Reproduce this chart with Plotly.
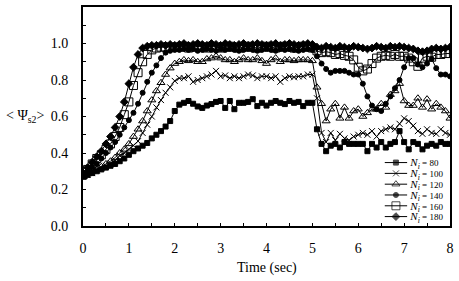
import plotly.graph_objects as go

# ---------------- data ----------------
time = [round(i * 0.1, 1) for i in range(81)]

ni_80 = [0.27, 0.28, 0.29, 0.30, 0.31, 0.32, 0.33, 0.34, 0.355, 0.37, 0.39,
         0.41, 0.425, 0.44, 0.455, 0.48, 0.50, 0.52, 0.545, 0.575, 0.63,
         0.665, 0.675, 0.685, 0.67, 0.655, 0.647, 0.66, 0.668, 0.68, 0.685,
         0.647, 0.685, 0.64, 0.675, 0.675, 0.68, 0.695, 0.657, 0.675, 0.66,
         0.675, 0.685, 0.675, 0.668, 0.685, 0.675, 0.68, 0.657, 0.675, 0.675,
         0.53, 0.45, 0.41, 0.44, 0.45, 0.43, 0.46, 0.45, 0.45, 0.45,
         0.45, 0.41, 0.45, 0.43, 0.46, 0.43, 0.45, 0.46, 0.52, 0.46,
         0.42, 0.46, 0.45, 0.42, 0.44, 0.45, 0.44, 0.46, 0.45, 0.45]

ni_100 = [0.27, 0.28, 0.29, 0.305, 0.32, 0.33, 0.345, 0.36, 0.385, 0.40, 0.42,
          0.44, 0.465, 0.51, 0.555, 0.60, 0.65, 0.69, 0.73, 0.76, 0.795,
          0.81, 0.81, 0.82, 0.79, 0.80, 0.81, 0.82, 0.83, 0.85, 0.82,
          0.825, 0.81, 0.82, 0.81, 0.82, 0.83, 0.825, 0.81, 0.82, 0.82,
          0.81, 0.82, 0.79, 0.81, 0.82, 0.815, 0.82, 0.82, 0.83, 0.83,
          0.70, 0.51, 0.46, 0.51, 0.47, 0.505, 0.48, 0.47, 0.49, 0.50,
          0.51, 0.50, 0.52, 0.49, 0.52, 0.53, 0.54, 0.53, 0.56, 0.59,
          0.575, 0.55, 0.52, 0.505, 0.53, 0.51, 0.505, 0.53, 0.51, 0.50]

ni_120 = [0.27, 0.285, 0.30, 0.31, 0.325, 0.34, 0.355, 0.375, 0.40, 0.42, 0.45,
          0.49, 0.53, 0.575, 0.63, 0.69, 0.74, 0.785, 0.83, 0.865, 0.89,
          0.90, 0.91, 0.905, 0.91, 0.90, 0.90, 0.915, 0.92, 0.93, 0.92,
          0.91, 0.91, 0.90, 0.91, 0.92, 0.91, 0.91, 0.92, 0.905, 0.89,
          0.91, 0.92, 0.90, 0.91, 0.91, 0.905, 0.91, 0.91, 0.91, 0.905,
          0.76, 0.67, 0.575, 0.64, 0.67, 0.59, 0.65, 0.59, 0.63, 0.64,
          0.60, 0.62, 0.64, 0.64, 0.67, 0.65, 0.72, 0.74, 0.78, 0.685,
          0.66, 0.66, 0.70, 0.65, 0.695, 0.64, 0.67, 0.65, 0.63, 0.59]

ni_140 = [0.28, 0.30, 0.32, 0.34, 0.37, 0.40, 0.43, 0.46, 0.50, 0.54, 0.58,
          0.62, 0.67, 0.73, 0.79, 0.84, 0.88, 0.92, 0.95, 0.96, 0.965,
          0.965, 0.97, 0.965, 0.97, 0.96, 0.965, 0.97, 0.965, 0.96, 0.97,
          0.965, 0.97, 0.965, 0.96, 0.965, 0.97, 0.965, 0.96, 0.965, 0.97,
          0.965, 0.96, 0.97, 0.965, 0.97, 0.965, 0.96, 0.965, 0.97, 0.965,
          0.93, 0.89, 0.86, 0.84, 0.85, 0.85, 0.85, 0.84, 0.83, 0.83,
          0.78, 0.71, 0.66, 0.64, 0.63, 0.67, 0.71, 0.755, 0.80, 0.87,
          0.92, 0.92, 0.885, 0.87, 0.89, 0.915, 0.865, 0.83, 0.83, 0.82]

ni_160 = [0.28, 0.31, 0.34, 0.37, 0.39, 0.42, 0.45, 0.49, 0.54, 0.61, 0.68,
          0.77, 0.84, 0.90, 0.94, 0.965, 0.975, 0.98, 0.98, 0.98, 0.98,
          0.98, 0.985, 0.975, 0.98, 0.985, 0.98, 0.975, 0.985, 0.98, 0.975,
          0.98, 0.985, 0.98, 0.975, 0.98, 0.985, 0.98, 0.975, 0.98, 0.985,
          0.98, 0.975, 0.98, 0.985, 0.98, 0.975, 0.98, 0.985, 0.98, 0.975,
          0.96, 0.95, 0.955, 0.95, 0.94, 0.945, 0.935, 0.93, 0.91, 0.87,
          0.85, 0.86, 0.89, 0.92, 0.93, 0.935, 0.93, 0.94, 0.93, 0.93,
          0.92, 0.90, 0.875, 0.92, 0.93, 0.925, 0.94, 0.94, 0.945, 0.945]

ni_180 = [0.29, 0.32, 0.35, 0.38, 0.41, 0.45, 0.49, 0.54, 0.60, 0.68, 0.78,
          0.87, 0.94, 0.975, 0.985, 0.99, 0.99, 0.995, 0.99, 0.995, 0.99,
          0.995, 1.0, 0.99, 0.995, 1.0, 0.995, 0.99, 1.0, 0.995, 0.99,
          1.0, 0.995, 0.99, 0.995, 1.0, 0.99, 0.995, 1.0, 0.995, 0.99,
          0.995, 1.0, 0.99, 0.995, 1.0, 0.995, 0.99, 0.995, 1.0, 0.995,
          0.98, 0.975, 0.985, 0.98, 0.975, 0.985, 0.98, 0.975, 0.985, 0.98,
          0.975, 0.97, 0.975, 0.985, 0.98, 0.975, 0.985, 0.98, 0.985, 0.98,
          0.975, 0.97, 0.96, 0.955, 0.96, 0.97, 0.975, 0.97, 0.975, 0.98]

series_names = ["Ni = 80", "Ni = 100", "Ni = 120", "Ni = 140", "Ni = 160", "Ni = 180"]
series_labels = ["<i>N<sub>i</sub></i><span style='font-size:9px'> = 80</span>",
                 "<i>N<sub>i</sub></i><span style='font-size:9px'> = 100</span>",
                 "<i>N<sub>i</sub></i><span style='font-size:9px'> = 120</span>",
                 "<i>N<sub>i</sub></i><span style='font-size:9px'> = 140</span>",
                 "<i>N<sub>i</sub></i><span style='font-size:9px'> = 160</span>",
                 "<i>N<sub>i</sub></i><span style='font-size:9px'> = 180</span>"]
series_values = [ni_80, ni_100, ni_120, ni_140, ni_160, ni_180]

x_ticks = [0, 1, 2, 3, 4, 5, 6, 7, 8]
y_ticks = [0.0, 0.2, 0.4, 0.6, 0.8, 1.0]
y_ticktext = ["0.0", "0.2", "0.4", "0.6", "0.8", "1.0"]

# ---------------- styles ----------------
symbols = ["square", "x-thin-open", "triangle-up-open", "circle", "square-open", "diamond"]
sizes = [5, 6, 7, 5, 8, 6]
FONT = "Liberation Serif"

fig = go.Figure()
for name, vals, sym, sz in zip(series_names, series_values, symbols, sizes):
    fig.add_trace(go.Scatter(
        x=time, y=vals, mode="lines+markers", name=name, showlegend=False,
        line=dict(color="black", width=1),
        marker=dict(symbol=sym, size=sz, color="black",
                    line=dict(color="black", width=1)),
        xaxis="x", yaxis="y"))

# compact legend drawn on a small inset axis
for name, sym, sz in zip(series_names, symbols, sizes):
    fig.add_trace(go.Scatter(
        x=[0, 1, 2], y=[name, name, name], mode="lines+markers", showlegend=False,
        hoverinfo="skip",
        line=dict(color="black", width=1),
        marker=dict(symbol=sym, size=[0, sz, 0], color="black",
                    line=dict(color="black", width=1)),
        xaxis="x2", yaxis="y2"))

fig.update_layout(
    width=459, height=281,
    margin=dict(l=83, r=6, t=5, b=55),
    paper_bgcolor="white", plot_bgcolor="white",
    font=dict(family=FONT, color="black", size=14),
    xaxis=dict(range=[0, 8], tickvals=x_ticks, ticks="inside", ticklen=3,
               tickcolor="black", showline=True, linewidth=2, linecolor="black",
               mirror=True, showgrid=False, zeroline=False,
               ticklabelstandoff=8,
               minor=dict(dtick=0.5, tick0=0, ticks="inside", ticklen=3,
                          tickcolor="black", showgrid=False),
               tickfont=dict(size=14, family=FONT)),
    yaxis=dict(range=[0, 1.2], tickvals=y_ticks, ticktext=y_ticktext,
               ticks="inside", ticklen=3, tickcolor="black",
               showline=True, linewidth=2, linecolor="black", mirror=True,
               showgrid=False, zeroline=False, ticklabelstandoff=10,
               minor=dict(dtick=0.1, tick0=0, ticks="inside", ticklen=3,
                          tickcolor="black", showgrid=False),
               tickfont=dict(size=14, family=FONT)),
    xaxis2=dict(domain=[0.8216, 0.8838], range=[0, 2], visible=False,
                anchor="y2"),
    yaxis2=dict(domain=[0.0183, 0.3143], type="category",
                categoryarray=series_names, range=[5.5, -0.5],
                anchor="x2", side="right", showline=False, showgrid=False,
                zeroline=False, ticks="", tickvals=series_names,
                ticktext=series_labels, ticklabelstandoff=2,
                tickfont=dict(size=11, family=FONT)),
    annotations=[
        dict(text="Time (sec)", xref="paper", yref="paper", x=0.5, y=-0.19,
             xanchor="center", yanchor="middle", showarrow=False,
             font=dict(size=14, family=FONT)),
        dict(text="&lt; Ψ<sub>s2</sub>&gt;", xref="paper", yref="y",
             x=-0.216, y=0.6, xanchor="left", yanchor="middle",
             showarrow=False, font=dict(size=14, family=FONT)),
    ],
)

fig.write_html("out.html",
               config={"displayModeBar": False},
               post_script="document.body.style.margin='0px';"
                           "document.body.style.overflow='hidden';")
